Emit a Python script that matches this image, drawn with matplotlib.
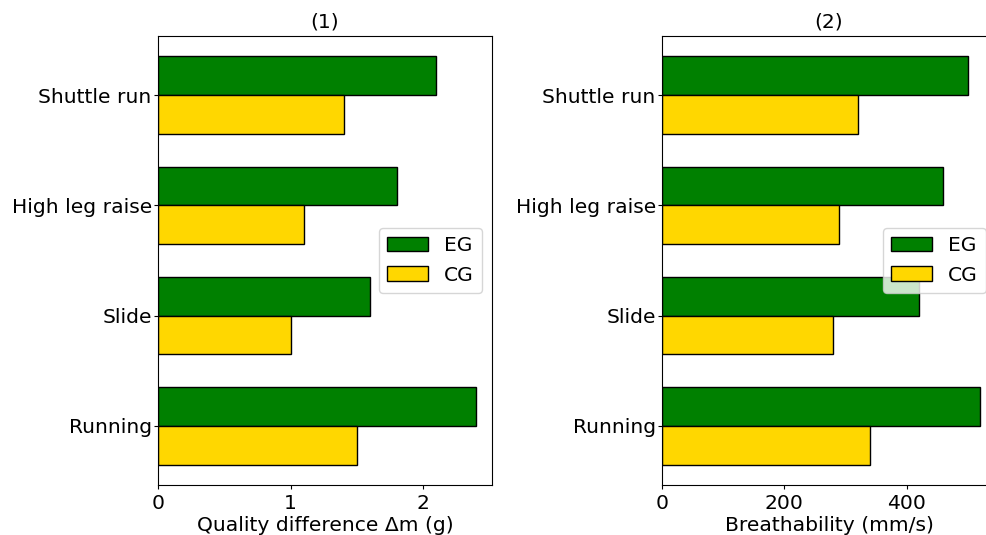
import matplotlib
matplotlib.use("Agg")
import matplotlib.pyplot as plt
import numpy as np

categories = ["Running", "Slide", "High leg raise", "Shuttle run"]
eg_mass = [2.4, 1.6, 1.8, 2.1]
cg_mass = [1.5, 1.0, 1.1, 1.4]
eg_breath = [520, 420, 460, 500]
cg_breath = [340, 280, 290, 320]

fs = 14.6
fig = plt.figure(figsize=(9.86, 5.35), dpi=100)
ax1 = fig.add_axes([158/986, 1-485/535, 334/986, 449/535])
ax2 = fig.add_axes([662/986, 1-485/535, 334/986, 449/535])

y = np.arange(len(categories))
h = 0.35
for ax, eg, cg, xl, title in [(ax1, eg_mass, cg_mass, "Quality difference Δm (g)", "(1)"),
                               (ax2, eg_breath, cg_breath, "Breathability (mm/s)", "(2)")]:
    ax.barh(y + h/2, eg, h, color="green", edgecolor="black", label="EG")
    ax.barh(y - h/2, cg, h, color="gold", edgecolor="black", label="CG")
    ax.set_yticks(y)
    ax.set_yticklabels(categories, fontsize=fs)
    ax.tick_params(axis="y", length=3, pad=1.5)
    ax.tick_params(axis="x", labelsize=fs, length=3)
    ax.set_xlabel(xl, fontsize=fs, labelpad=2)
    ax.set_title(title, fontsize=fs)
    ax.legend(loc="center right", fontsize=fs)

ax1.set_xticks([0, 1, 2])
ax2.set_xticks([0, 200, 400])

fig.savefig("out.png", dpi=100)
